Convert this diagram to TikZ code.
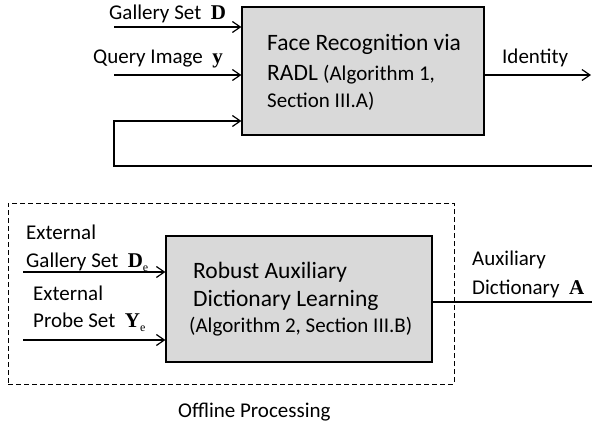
\documentclass[tikz,border=0pt]{standalone}
\usepackage{fontspec}
\setmainfont{Carlito}
\newfontfamily\tnr{Liberation Serif}
\usetikzlibrary{arrows.meta}
\newcommand\bsym[1]{{\tnr\bfseries #1}}
\newcommand\bsub[2]{{\tnr\bfseries #1}\raisebox{-0.22em}{\tnr\fontsize{12}{12}\selectfont #2}}
\begin{document}
\begin{tikzpicture}[x=1pt,y=-1pt,
  box/.style={draw=black,line width=1.2pt,fill=black!15,minimum width=#1,inner sep=0pt},
  big/.style={font=\fontsize{23.5}{28}\selectfont},
  small/.style={font=\fontsize{21}{25}\selectfont},
  txt/.style={anchor=base west,inner sep=0pt},
  wire/.style={line width=1.3pt},
  arr/.style={line width=1.3pt,-{Straight Barb[length=8pt,width=11pt,line width=1.2pt]}},
  dashbox/.style={draw=black,line width=1pt,dash pattern=on 5pt off 3pt,inner sep=0pt}]
\useasboundingbox (0,0) rectangle (592,424);
% boxes
\node[box=242pt,minimum height=128pt] (rec) at (363,71) {};
\node[box=266pt,minimum height=126pt] (adl) at (299,299) {};
\node[dashbox,minimum width=446pt,minimum height=181pt] (off) at (231,293.5) {};
% texts in box 1
\node[txt,big] (r1) at (267,50.7) {Face Recognition via};
\node[txt,big] (r2) at (267,80.7) {RADL {\fontsize{21}{25}\selectfont(Algorithm 1,}};
\node[txt,small] (r3) at (267,107) {Section III.A)};
% texts in box 2
\node[txt,big] (a1) at (193,278) {Robust Auxiliary};
\node[txt,big] (a2) at (193,306) {Dictionary Learning};
\node[txt,small] (a3) at (189,332) {(Algorithm 2, Section III.B)};
% labels top
\node[txt,small] (lg) at (109,19.5) {Gallery Set\ \ \bsym{D}};
\node[txt,small] (lq) at (93,63) {Query Image\ \ \bsym{y}};
\node[txt,small] (lid) at (502,63) {Identity};
% labels bottom
\node[txt,small] (le1) at (26,239) {External};
\node[txt,small] (le2) at (26,267) {Gallery Set\ \ \bsub{D}{e}};
\node[txt,small] (le3) at (33,300) {External};
\node[txt,small] (le4) at (33,327) {Probe Set\ \ \bsub{Y}{e}};
\node[txt,small] (lx1) at (472,265) {Auxiliary};
\node[txt,small] (lx2) at (472,294) {Dictionary\ \ \bsym{A}};
\node[txt,small] (loff) at (178,417) {Offline Processing};
% free ends
\coordinate (g0) at (114,27);
\coordinate (q0) at (114,75);
\coordinate (f0) at (592,166);
\coordinate (f1) at (114,166);
\coordinate (f2) at (114,121);
\coordinate (id1) at (591,75);
\coordinate (e1) at (23,272);
\coordinate (e2) at (23,340);
\coordinate (o1) at (592,302);
% connectors
\draw[arr] (g0) -- (g0 -| rec.west);
\draw[arr] (q0) -- (q0 -| rec.west);
\draw[arr] (f0) -- (f1) -- (f2) -- (f2 -| rec.west);
\draw[arr] (id1 -| rec.east) -- (id1);
\draw[arr] (e1) -- (e1 -| adl.west);
\draw[arr] (e2) -- (e2 -| adl.west);
\draw[wire] (o1 -| adl.east) -- (o1);
\end{tikzpicture}
\end{document}
